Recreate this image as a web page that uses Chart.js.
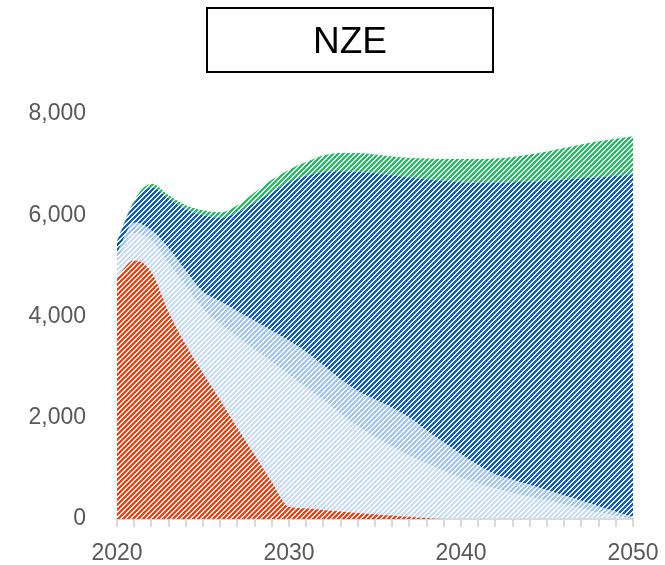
<!DOCTYPE html>
<html>
<head>
<meta charset="utf-8">
<script src="https://cdn.jsdelivr.net/npm/chart.js@4.4.1/dist/chart.umd.min.js"></script>
<style>
    html, body {
        margin: 0;
        padding: 0;
        background: #ffffff;
    }

    #wrap {
        position: relative;
        width: 665px;
        height: 565px;
    }

    #title_box {
        position: absolute;
        left: 206px;
        top: 7px;
        width: 284px;
        height: 62px;
        border: 2px solid #000000;
        font-family: "Liberation Sans", Arial, sans-serif;
        font-size: 37px;
        line-height: 64px;
        text-align: center;
        color: #000000;
    }
</style>
</head>
<body>
<div id="wrap">
    <canvas id="area_chart" width="665" height="565"></canvas>
    <div id="title_box">NZE</div>
</div>

<script>
const YEARS = [
    2020, 2021, 2022, 2023, 2024, 2025, 2026, 2027, 2028, 2029,
    2030, 2031, 2032, 2033, 2034, 2035, 2036, 2037, 2038, 2039,
    2040, 2041, 2042, 2043, 2044, 2045, 2046, 2047, 2048, 2049, 2050
];

const Y_TICKS = [0, 2000, 4000, 6000, 8000];

// layers, bottom to top
const RED = [
    4780, 5110, 4880, 4090, 3440, 2880, 2350, 1800, 1270, 730,
    240, 210, 180, 150, 120, 95, 70, 45, 20, 0,
    0, 0, 0, 0, 0, 0, 0, 0, 0, 0, 0
];

const PALE_BLUE = [
    320, 540, 620, 960, 1160, 1270, 1500, 1800, 2080, 2370,
    2610, 2390, 2170, 1930, 1710, 1525, 1360, 1205, 1080, 950,
    820, 700, 600, 520, 440, 360, 280, 200, 130, 60, 0
];

const MID_BLUE = [
    150, 200, 200, 300, 300, 340, 450, 500, 560, 620,
    670, 700, 680, 680, 700, 740, 770, 750, 650, 560,
    460, 360, 280, 255, 230, 210, 185, 160, 120, 85, 40
];

const DARK_BLUE = [
    230, 400, 850, 980, 1220, 1510, 1650, 1950, 2340, 2730,
    3130, 3480, 3820, 4110, 4330, 4470, 4590, 4750, 4960, 5170,
    5370, 5580, 5760, 5875, 5990, 6110, 6235, 6370, 6500, 6635, 6760
];

const GREEN = [
    20, 50, 70, 70, 80, 100, 110, 150, 200, 250,
    250, 270, 330, 360, 370, 370, 370, 380, 410, 430,
    460, 470, 480, 500, 540, 580, 630, 670, 710, 730, 760
];

// diagonal "/" stripes, 5 px period, 3 px wide
function hatch(color) {
    const size = 5;
    const tile = document.createElement("canvas");
    tile.width = size;
    tile.height = size;
    const ctx = tile.getContext("2d");
    ctx.fillStyle = color;
    for (let x = 0; x < size; x++) {
        for (let y = 0; y < size; y++) {
            if ((x + y) % size < 3) {
                ctx.fillRect(x, y, 1, 1);
            }
        }
    }
    return ctx.createPattern(tile, "repeat");
}

function layer(label, values, color, fill) {
    return {
        label: label,
        data: values,
        backgroundColor: hatch(color),
        borderWidth: 0,
        pointRadius: 0,
        fill: fill,
        cubicInterpolationMode: "monotone"
    };
}

const axisFont = {
    family: "Liberation Sans",
    size: 23
};

new Chart(document.getElementById("area_chart"), {
    type: "line",

    data: {
        labels: YEARS,
        datasets: [
            layer("red", RED, "#ff3c0a", "origin"),
            layer("pale", PALE_BLUE, "#c8defc", "-1"),
            layer("mid", MID_BLUE, "#9fc6f6", "-1"),
            layer("dark", DARK_BLUE, "#0a5cd0", "-1"),
            layer("green", GREEN, "#1fc060", "-1")
        ]
    },

    options: {
        responsive: false,
        animation: false,

        layout: {
            padding: {
                top: 114,
                right: 32,
                left: 0,
                bottom: 0
            }
        },

        scales: {
            x: {
                offset: false,

                grid: {
                    drawOnChartArea: false,
                    drawTicks: true,
                    tickLength: 8,
                    color: "#d9d9d9",
                    lineWidth: 2
                },

                border: {
                    display: true,
                    color: "#d9d9d9",
                    width: 2
                },

                ticks: {
                    autoSkip: false,
                    maxRotation: 0,
                    padding: 13,
                    color: "#595959",
                    font: axisFont,
                    callback: function (value, index) {
                        const year = YEARS[index];
                        return year % 10 === 0 ? String(year) : "";
                    }
                },

                afterFit: function (scale) {
                    scale.height = 46;
                    scale.paddingLeft = 0;
                    scale.paddingRight = 0;
                }
            },

            y: {
                stacked: true,
                min: Y_TICKS[0],
                max: Y_TICKS[Y_TICKS.length - 1],

                grid: {
                    display: false,
                    drawTicks: false
                },

                border: {
                    display: false
                },

                ticks: {
                    stepSize: 2000,
                    padding: 31,
                    color: "#595959",
                    font: axisFont,
                    callback: function (value) {
                        return value.toLocaleString("en-US");
                    }
                },

                afterFit: function (scale) {
                    scale.width = 117;
                    scale.paddingTop = 0;
                    scale.paddingBottom = 0;
                }
            }
        },

        plugins: {
            legend: {
                display: false
            },

            tooltip: {
                enabled: false
            }
        }
    }
});
</script>
</body>
</html>
